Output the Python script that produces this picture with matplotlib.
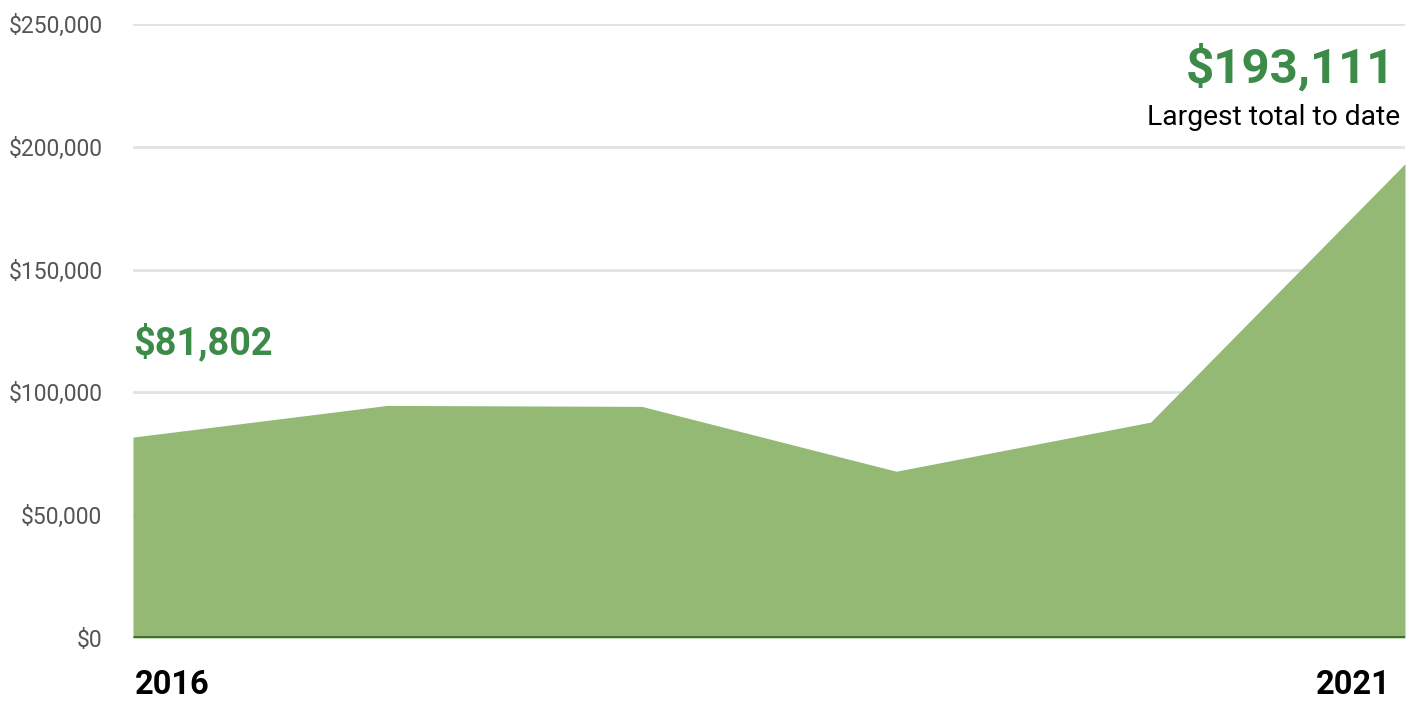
import matplotlib
matplotlib.use("Agg")
import matplotlib.pyplot as plt
from matplotlib.ticker import FuncFormatter

years = [2016, 2017, 2018, 2019, 2020, 2021]
totals = [81802, 94700, 94300, 67900, 87900, 193111]
yticks = [0, 50000, 100000, 150000, 200000, 250000]

plt.rcParams['font.family'] = ['Roboto', 'DejaVu Sans']

fig = plt.figure(figsize=(14.12, 7.02), dpi=100)
ax = fig.add_axes([133/1412, 64/702, (1405-133)/1412, (638-24)/702])

ax.fill_between(years, totals, 0, color='#93b975', linewidth=0, zorder=2)
ax.plot([years[0], years[-1]], [0, 0], color='#3e6e30', linewidth=3.6, zorder=3,
        solid_capstyle='butt')

ax.set_xlim(years[0], years[-1])
ax.set_ylim(0, 250000)
ax.set_yticks(yticks)
ax.yaxis.set_major_formatter(FuncFormatter(lambda v, p: f"${int(v):,}"))
ax.grid(axis='y', color='#e2e2e2', linewidth=2, zorder=0)
ax.set_axisbelow(True)
for s in ax.spines.values():
    s.set_visible(False)
ax.tick_params(axis='y', length=0, pad=22, labelsize=16.5, labelcolor='#555555')
ax.set_xticks([])

ylab = -(638 - 24) and -(702 - 1 - 638) / (638 - 24)
ax.text(years[0] + 0.006, ylab, str(years[0]), transform=ax.get_xaxis_transform(),
        ha='left', va='bottom', fontsize=23.5, fontweight='bold', color='black')
ax.text(years[-1] - 0.055, ylab, str(years[-1]), transform=ax.get_xaxis_transform(),
        ha='right', va='bottom', fontsize=23.5, fontweight='bold', color='black')
ax.text(years[0], 115500, f"${totals[0]:,}", ha='left', va='baseline',
        fontsize=27.3, fontweight='bold', color='#3d8b48')
ax.text(years[-1] - 0.04, 226000, f"${totals[-1]:,}", ha='right', va='baseline',
        fontsize=35.5, fontweight='bold', color='#3d8b48')
ax.text(years[-1] - 0.02, 208900, "Largest total to date", ha='right', va='baseline',
        fontsize=20.3, color='black')

fig.savefig("out.png", dpi=100)
